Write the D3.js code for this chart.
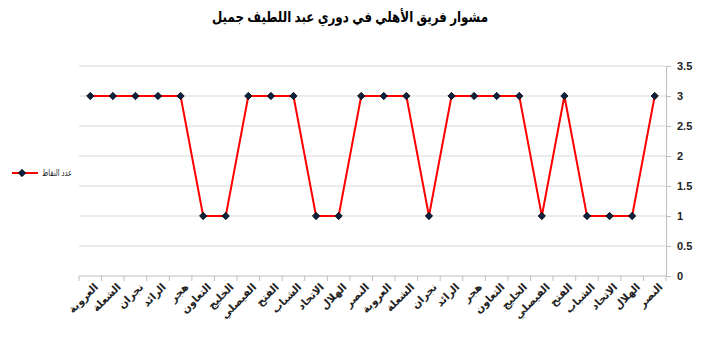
<!DOCTYPE html>
<html>
<head>
<meta charset="utf-8">
<script src="https://cdn.jsdelivr.net/npm/d3@7"></script>
<style>
  body { margin: 0; background: #fff; }
  svg text { font-family: Arial, "Liberation Sans", "DejaVu Sans", sans-serif; }
</style>
</head>
<body>
<div id="chart"></div>
<script>
// الفرق بالترتيب
const teams = ["العروبة", "الشعلة", "نجران", "الرائد", "هجر", "التعاون", "الخليج", "الفيصلي", "الفتح", "الشباب", "الاتحاد", "الهلال", "النصر",
               "العروبة", "الشعلة", "نجران", "الرائد", "هجر", "التعاون", "الخليج", "الفيصلي", "الفتح", "الشباب", "الاتحاد", "الهلال", "النصر"];
const points = [3, 3, 3, 3, 3, 1, 1, 3, 3, 3, 1, 1, 3, 3, 3, 1, 3, 3, 3, 3, 1, 3, 1, 1, 1, 3];
const yTicks = [0, 0.5, 1, 1.5, 2, 2.5, 3, 3.5];
const chartTitle = "مشوار فريق الأهلي في دوري عبد اللطيف جميل";
const seriesName = "عدد النقاط";

const W = 702, H = 351;
const margin = { top: 66, right: 36, bottom: 75, left: 79 };
const width = W - margin.left - margin.right;
const height = H - margin.top - margin.bottom;

const svgRoot = d3.select("#chart").append("svg")
    .attr("width", W).attr("height", H);

const svg = svgRoot.append("g")
    .attr("transform", `translate(${margin.left},${margin.top})`);

const data = teams.map((t, i) => ({ i: i, team: t, value: points[i] }));

const x = d3.scaleBand()
    .domain(data.map(d => d.i))
    .range([0, width]);

const y = d3.scaleLinear()
    .domain([0, 3.5])
    .range([height, 0]);

// خطوط الشبكة
svg.append("g")
    .selectAll("line")
    .data(yTicks.filter(v => v > 0))
    .join("line")
    .attr("x1", 0).attr("x2", width)
    .attr("y1", d => y(d)).attr("y2", d => y(d))
    .attr("stroke", "#d9d9d9").attr("stroke-width", 1);

// المحور الأيمن
const yAxis = svg.append("g")
    .attr("transform", `translate(${width},0)`)
    .call(d3.axisRight(y).tickValues(yTicks).tickSize(5).tickPadding(6).tickFormat(d3.format("~g")));
yAxis.select(".domain").attr("stroke", "#bfbfbf");
yAxis.selectAll(".tick line").attr("stroke", "#bfbfbf");
yAxis.selectAll("text")
    .style("font-size", "11px").style("font-weight", "bold").attr("fill", "#222");

// المحور السفلي
const xAxisG = svg.append("g")
    .attr("transform", `translate(0,${height})`);
xAxisG.append("line")
    .attr("x1", 0).attr("x2", width)
    .attr("stroke", "#bfbfbf");
xAxisG.selectAll(".xtick")
    .data(d3.range(teams.length + 1))
    .join("line")
    .attr("class", "xtick")
    .attr("x1", d => d * x.step()).attr("x2", d => d * x.step())
    .attr("y1", 0).attr("y2", 5)
    .attr("stroke", "#bfbfbf");
xAxisG.selectAll(".xlabel")
    .data(data)
    .join("text")
    .attr("class", "xlabel")
    .attr("transform", d => `translate(${x(d.i) + x.bandwidth() / 2 + 6},${9}) rotate(-45)`)
    .attr("text-anchor", "end")
    .attr("dy", "0.35em")
    .style("font-size", "10.5px").style("font-weight", "bold").attr("fill", "#222")
    .text(d => d.team);

// الخط
const line = d3.line()
    .x(d => x(d.i) + x.bandwidth() / 2)
    .y(d => y(d.value));

svg.append("path")
    .datum(data)
    .attr("fill", "none")
    .attr("stroke", "#ff0000")
    .attr("stroke-width", 2)
    .attr("d", line);

const diamond = d3.symbol().type(d3.symbolDiamond2).size(34);
svg.selectAll(".marker")
    .data(data)
    .join("path")
    .attr("class", "marker")
    .attr("transform", d => `translate(${x(d.i) + x.bandwidth() / 2},${y(d.value)})`)
    .attr("d", diamond)
    .attr("fill", "#0d2240")
    .attr("stroke", "#000")
    .attr("stroke-width", 0.8);

// العنوان
svgRoot.append("text")
    .attr("x", 350).attr("y", 22)
    .attr("text-anchor", "middle")
    .attr("textLength", 276).attr("lengthAdjust", "spacingAndGlyphs")
    .style("font-size", "15px").style("font-weight", "bold").attr("fill", "#000")
    .text(chartTitle);

// وسيلة الإيضاح
const legend = svgRoot.append("g").attr("transform", "translate(12,173)");
legend.append("line")
    .attr("x1", 0).attr("x2", 26)
    .attr("stroke", "#ff0000").attr("stroke-width", 2);
legend.append("path")
    .attr("transform", "translate(10,0)")
    .attr("d", diamond)
    .attr("fill", "#0d2240").attr("stroke", "#000").attr("stroke-width", 0.8);
legend.append("text")
    .attr("x", 30).attr("dy", "0.35em")
    .attr("textLength", 30).attr("lengthAdjust", "spacingAndGlyphs")
    .style("font-size", "9.5px").attr("fill", "#222")
    .text(seriesName);
</script>
</body>
</html>
